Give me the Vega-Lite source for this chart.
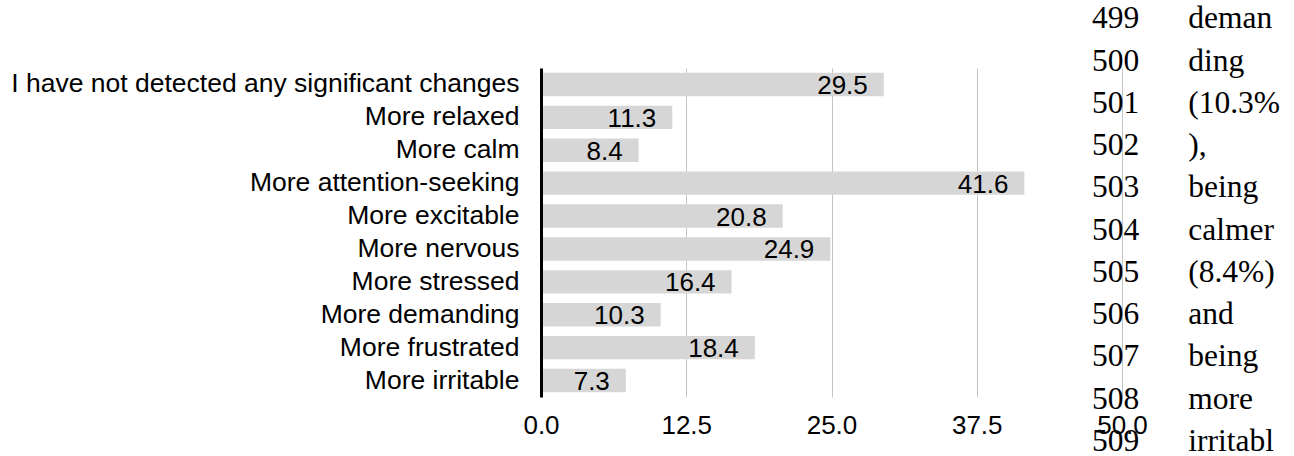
{
  "$schema": "https://vega.github.io/schema/vega-lite/v6.json",
  "width": 581,
  "height": 329,
  "autosize": {"type": "none"},
  "padding": {"left": 541, "top": 68, "right": 172, "bottom": 59},
  "background": "white",
  "config": {
    "view": {"stroke": null},
    "font": "Liberation Sans"
  },
  "layer": [
    {
      "data": {
        "values": [
          {"response": "I have not detected any significant changes", "pct": 29.5},
          {"response": "More relaxed", "pct": 11.3},
          {"response": "More calm", "pct": 8.4},
          {"response": "More attention-seeking", "pct": 41.6},
          {"response": "More excitable", "pct": 20.8},
          {"response": "More nervous", "pct": 24.9},
          {"response": "More stressed", "pct": 16.4},
          {"response": "More demanding", "pct": 10.3},
          {"response": "More frustrated", "pct": 18.4},
          {"response": "More irritable", "pct": 7.3}
        ]
      },
      "encoding": {
        "y": {
          "field": "response",
          "type": "nominal",
          "sort": null,
          "scale": {"paddingInner": 0.29, "paddingOuter": 0.145},
          "axis": {
            "title": null,
            "ticks": false,
            "domain": true,
            "domainColor": "#000000",
            "domainWidth": 3,
            "labelFontSize": 26.5,
            "labelColor": "#000000",
            "labelPadding": 22,
            "labelLimit": 1000,
            "grid": false,
            "zindex": 2
          }
        },
        "x": {
          "field": "pct",
          "type": "quantitative",
          "scale": {"domain": [0, 50], "nice": false},
          "axis": {
            "title": null,
            "values": [0, 12.5, 25, 37.5, 50],
            "format": ".1f",
            "ticks": false,
            "domain": false,
            "grid": true,
            "gridColor": "#c4c4c4",
            "gridWidth": 1,
            "labelFontSize": 26,
            "labelColor": "#000000",
            "labelPadding": 15,
            "labelFlush": false,
            "zindex": 0
          }
        }
      },
      "layer": [
        {"mark": {"type": "bar", "color": "#d6d6d6"}},
        {
          "mark": {
            "type": "text",
            "align": "right",
            "baseline": "middle",
            "dx": -16,
            "dy": 1.5,
            "fontSize": 26,
            "color": "#000000"
          },
          "encoding": {"text": {"field": "pct", "type": "quantitative", "format": ".1f"}}
        }
      ]
    },
    {
      "data": {
        "values": [
          {"line": 499, "word": "deman"},
          {"line": 500, "word": "ding"},
          {"line": 501, "word": "(10.3%"},
          {"line": 502, "word": "),"},
          {"line": 503, "word": "being"},
          {"line": 504, "word": "calmer"},
          {"line": 505, "word": "(8.4%)"},
          {"line": 506, "word": "and"},
          {"line": 507, "word": "being"},
          {"line": 508, "word": "more"},
          {"line": 509, "word": "irritabl"}
        ]
      },
      "encoding": {
        "y": {
          "field": "line",
          "type": "quantitative",
          "scale": {"domain": [500.15, 507.94], "reverse": true, "nice": false, "zero": false},
          "axis": null
        }
      },
      "layer": [
        {
          "mark": {
            "type": "text",
            "align": "left",
            "baseline": "middle",
            "font": "Liberation Serif",
            "fontSize": 31.5,
            "color": "#000000"
          },
          "encoding": {
            "x": {"datum": 47.42, "type": "quantitative"},
            "text": {"field": "line", "type": "quantitative", "format": "d"}
          }
        },
        {
          "mark": {
            "type": "text",
            "align": "left",
            "baseline": "middle",
            "font": "Liberation Serif",
            "fontSize": 31.5,
            "color": "#000000"
          },
          "encoding": {
            "x": {"datum": 55.7, "type": "quantitative"},
            "text": {"field": "word", "type": "nominal"}
          }
        }
      ]
    }
  ],
  "resolve": {"scale": {"y": "independent"}}
}
